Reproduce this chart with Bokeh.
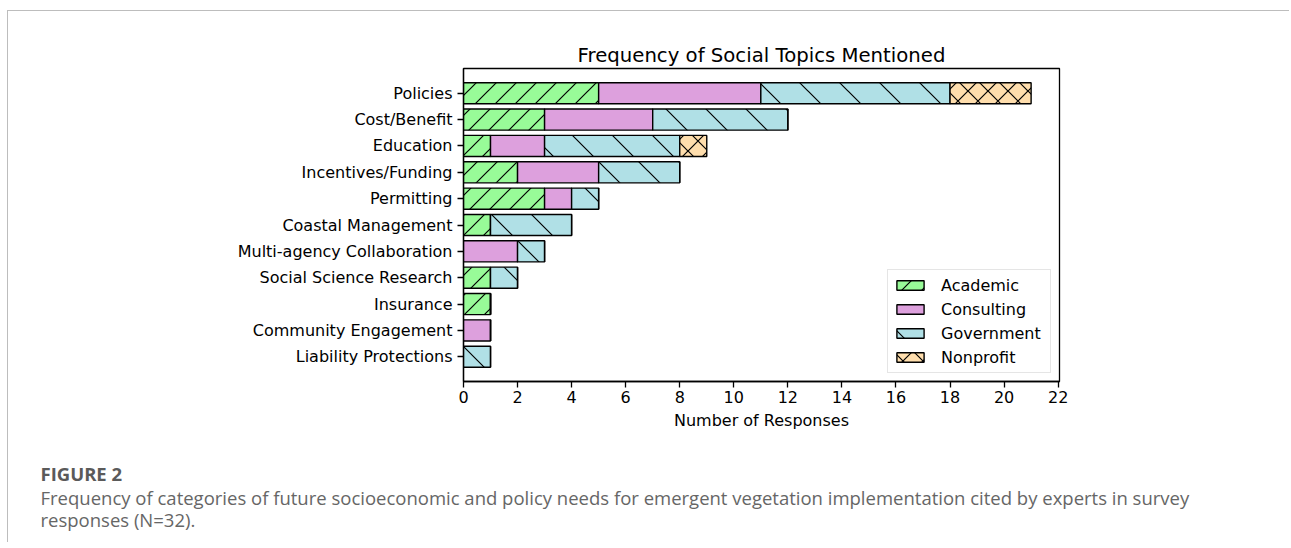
from bokeh.plotting import figure
from bokeh.models import Range1d, FactorRange, Label, ImageURLTexture, ColumnDataSource
from bokeh.embed import file_html
from bokeh.resources import INLINE
import numpy as np
import base64

# ---------------- data ----------------
topics = ["Policies", "Cost/Benefit", "Education", "Incentives/Funding", "Permitting",
          "Coastal Management", "Multi-agency Collaboration", "Social Science Research",
          "Insurance", "Community Engagement", "Liability Protections"]
academic   = [5, 3, 1, 2, 3, 1, 0, 1, 1, 0, 0]
consulting = [6, 4, 2, 3, 1, 0, 2, 0, 0, 1, 0]
government = [7, 5, 5, 3, 1, 3, 1, 1, 0, 0, 1]
nonprofit  = [3, 0, 1, 0, 0, 0, 0, 0, 0, 0, 0]
groups = ["Academic", "Consulting", "Government", "Nonprofit"]
x_ticks = [0, 2, 4, 6, 8, 10, 12, 14, 16, 18, 20, 22]

title_text = "Frequency of Social Topics Mentioned"
x_label = "Number of Responses"
caption_heading = "FIGURE 2"
caption_lines = [
    "Frequency of categories of future socioeconomic and policy needs for emergent vegetation implementation cited by experts in survey",
    "responses (N=32).",
]

# ---------------- styles ----------------
colors = {"Academic": "#98FB98", "Consulting": "#DDA0DD",
          "Government": "#B0E0E6", "Nonprofit": "#FFDEAD"}


def svg_texture(size, path):
    svg = ('<svg xmlns="http://www.w3.org/2000/svg" width="%d" height="%d">'
           '<path d="%s" stroke="black" stroke-width="1.2" fill="none"/></svg>') % (size, size, path)
    return ImageURLTexture(url="data:image/svg+xml;base64," + base64.b64encode(svg.encode()).decode())


tex_fwd = svg_texture(20, "M0 20L20 0M-5 5L5 -5M15 25L25 15")
tex_back = svg_texture(40, "M0 0L40 40M-10 30L10 50M30 -10L50 10")
tex_cross = svg_texture(20, "M0 0L20 20M-5 15L5 25M15 -5L25 5M0 20L20 0M-5 5L5 -5M15 25L25 15")

hatch = {
    "Academic":   dict(hatch_pattern="/", hatch_extra={"/": tex_fwd, "right_diagonal_line": tex_fwd}),
    "Consulting": dict(),
    "Government": dict(hatch_pattern="\\", hatch_extra={"\\": tex_back, "left_diagonal_line": tex_back}),
    "Nonprofit":  dict(hatch_pattern="x", hatch_extra={"x": tex_cross, "diagonal_cross": tex_cross}),
}

# ---------------- table ----------------
vals = {"Academic": academic, "Consulting": consulting,
        "Government": government, "Nonprofit": nonprofit}
data = {"topic": topics}
cum = np.zeros(len(topics))
for g in groups:
    v = np.array(vals[g], dtype=float)
    data[g + "_left"] = cum.copy()
    data[g + "_right"] = cum + v
    cum = cum + v
src = ColumnDataSource(data)

# ---------------- main figure ----------------
W = 1282
p = figure(width=W, height=440,
           y_range=FactorRange(factors=topics[::-1], range_padding=0.44,
                               range_padding_units="absolute"),
           x_range=Range1d(0, 22.05),
           output_backend="svg", toolbar_location=None,
           min_border_left=455, min_border_right=W - 455 - 596,
           min_border_top=57, min_border_bottom=70)

p.title.text = title_text
p.title.align = "center"
p.title.text_font = "DejaVu Sans"
p.title.text_font_size = "19.7px"
p.title.text_font_style = "normal"
p.title.text_color = "black"
p.title.standoff = 4

for g in groups:
    p.hbar(y="topic", left=g + "_left", right=g + "_right", height=0.8, source=src,
           fill_color=colors[g], line_color="black", line_width=1.4,
           hatch_color="black", hatch_weight=1.2, legend_label=g, **hatch[g])

p.xgrid.visible = False
p.ygrid.visible = False
p.outline_line_color = "black"
p.outline_line_width = 1.3
p.background_fill_color = "white"
p.border_fill_color = "white"

for ax in (p.xaxis[0], p.yaxis[0]):
    ax.axis_line_width = 1.3
    ax.axis_line_color = "black"
    ax.major_tick_line_width = 1.3
    ax.major_tick_line_color = "black"
    ax.major_tick_out = 6
    ax.major_tick_in = 0
    ax.minor_tick_out = 0
    ax.minor_tick_in = 0
    ax.major_label_text_font = "DejaVu Sans"
    ax.major_label_text_font_size = "16px"
    ax.major_label_text_color = "black"
    ax.major_label_standoff = 5

p.xaxis.ticker = x_ticks
p.xaxis.major_label_standoff = 3
p.xaxis.axis_label = x_label
p.xaxis.axis_label_text_font = "DejaVu Sans"
p.xaxis.axis_label_text_font_size = "16px"
p.xaxis.axis_label_text_font_style = "normal"
p.xaxis.axis_label_text_color = "black"
p.xaxis.axis_label_standoff = 5

leg = p.legend[0]
leg.location = "bottom_right"
leg.margin = 8
leg.padding = 5
leg.spacing = 4
leg.label_height = 20
leg.label_width = 104
leg.glyph_height = 12
leg.glyph_width = 34
leg.label_standoff = 14
leg.label_text_font = "DejaVu Sans"
leg.label_text_font_size = "16px"
leg.label_text_color = "black"
leg.border_line_color = "#cccccc"
leg.border_line_width = 1
leg.background_fill_alpha = 0.8

p.styles = {"border-top": "1px solid #bdbdbd", "border-left": "1px solid #bdbdbd",
            "margin-top": "10px", "margin-left": "7px"}

# ---------------- caption figure ----------------
CH = 92
p2 = figure(width=W, height=CH, x_range=Range1d(0, W), y_range=Range1d(CH, 0),
            output_backend="svg", toolbar_location=None,
            x_axis_location=None, y_axis_location=None, min_border=0)
p2.grid.visible = False
p2.outline_line_color = None
p2.background_fill_color = "white"
p2.border_fill_color = "white"
p2.styles = {"border-left": "1px solid #bdbdbd", "margin-left": "7px"}

p2.add_layout(Label(x=32, y=23, text=caption_heading,
                    text_align="left", text_baseline="alphabetic",
                    text_font="Open Sans", text_font_size="18.5px", text_font_style="bold",
                    text_color="#5a5a5a"))
for i, line in enumerate(caption_lines):
    p2.add_layout(Label(x=32, y=47 + 22 * i, text=line,
                        text_align="left", text_baseline="alphabetic",
                        text_font="Open Sans", text_font_size="18.5px", text_color="#666666"))

open("out.html", "w").write(file_html([p, p2], INLINE))
